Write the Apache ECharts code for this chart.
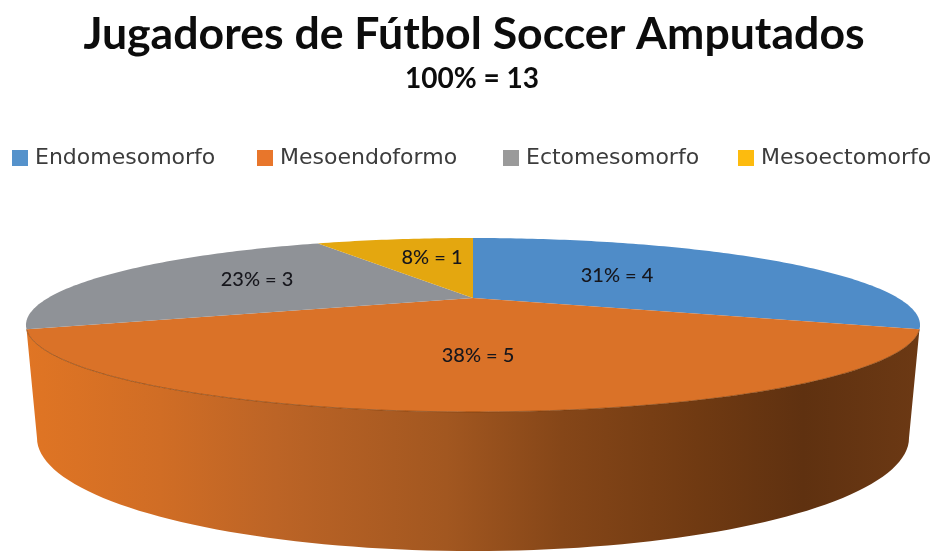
<!DOCTYPE html>
<html>
<head>
<meta charset="utf-8">
<style>html,body{margin:0;padding:0;background:#fff}#chart{width:939px;height:552px}</style>
<script src="https://cdn.jsdelivr.net/npm/echarts@6/dist/echarts.min.js"></script>
</head>
<body>
<div id="chart"></div>
<script>
// Somatotype counts for the squad
const categories = ['Endomesomorfo', 'Mesoendoformo', 'Ectomesomorfo', 'Mesoectomorfo'];
const counts = [4, 5, 3, 1];
const titleText = 'Jugadores de Fútbol Soccer Amputados';
const subtitleText = '100% = 13';

// Appearance
const faceColors = ['#4F8CC8', '#DA7228', '#8F9297', '#E4A70F'];
const swatchColors = ['#5592CB', '#E8762B', '#9A9A9A', '#FDBB0E'];
const legendLeft = [12, 257, 503, 738];
const labelAt = [[617, 276], [478, 356], [257, 280], [432, 258]];

// Tilted disc: circle seen in perspective, with the apex behind the ellipse centre
const disc = { cx: 473, apexY: 298, a: 425, b: 78.6, k: 0.31 };
const base = { cx: 473, cy: 438, rx: 436, ry: 113 };
const WALL_SIDE = 1; // index of the slice whose side wall faces the viewer

const total = counts.reduce((s, v) => s + v, 0);

function project(theta) {
  const u = Math.sin(theta), v = Math.cos(theta), w = 1 + disc.k * v;
  return [disc.cx + disc.a * u / w, disc.apexY - disc.b * v / w];
}
function rim(from, to) {
  const steps = Math.max(2, Math.ceil(Math.abs(to - from) * 60));
  const pts = [];
  for (let i = 0; i <= steps; i++) pts.push(project(from + (to - from) * i / steps));
  return pts;
}
// Lower edge of the side wall, running from the left end to the right end
function baseArc() {
  const pts = [];
  for (let i = 180; i >= 0; i -= 2) {
    const t = i * Math.PI / 180;
    pts.push([base.cx + base.rx * Math.cos(t), base.cy + base.ry * Math.sin(t)]);
  }
  return pts;
}

function makeRenderItem(index) {
  return function (params, api) {
    const value = api.value(0);
    const before = counts.slice(0, index).reduce((s, v) => s + v, 0);
    const start = before / total * Math.PI * 2;
    const end = (before + value) / total * Math.PI * 2;
    const edge = rim(start, end);
    const children = [];
    if (index === WALL_SIDE) {
      children.push({
        type: 'polygon',
        shape: { points: edge.concat(baseArc()) },
        style: {
          fill: new echarts.graphic.LinearGradient(0, 0, 1, 0, [
            { offset: 0, color: '#E07524' },
            { offset: 0.15, color: '#D06D25' },
            { offset: 0.28, color: '#BC6426' },
            { offset: 0.47, color: '#A25720' },
            { offset: 0.6, color: '#854618' },
            { offset: 0.75, color: '#703A12' },
            { offset: 0.87, color: '#5F3110' },
            { offset: 1, color: '#6C3914' }
          ])
        }
      });
    }
    children.push({
      type: 'polygon',
      shape: { points: [[disc.cx, disc.apexY]].concat(edge) },
      style: { fill: faceColors[index] }
    });
    if (index === WALL_SIDE) {
      children.push({
        type: 'polyline',
        shape: { points: edge },
        style: { fill: 'none', stroke: 'rgba(110,55,10,0.55)', lineWidth: 1 }
      });
    }
    children.push({
      type: 'text',
      style: {
        x: labelAt[index][0],
        y: labelAt[index][1],
        text: Math.round(value / total * 100) + '% = ' + value,
        font: '500 20px Lato',
        fill: '#16161c',
        align: 'center',
        verticalAlign: 'middle'
      }
    });
    return { type: 'group', children: children };
  };
}

const chart = echarts.init(document.getElementById('chart'));
chart.setOption({
  backgroundColor: '#fff',
  animation: false,
  title: [
    { text: titleText, left: 469, top: 7, textAlign: 'center',
      textStyle: { fontFamily: 'Lato', fontWeight: 'bold', fontSize: 44.6, color: '#0c0c0c' } },
    { text: subtitleText, left: 467, top: 60, textAlign: 'center',
      textStyle: { fontFamily: 'Lato', fontWeight: 'bold', fontSize: 28, color: '#0c0c0c' } }
  ],
  legend: categories.map((name, i) => ({
    left: legendLeft[i],
    top: 147,
    padding: 0,
    icon: 'rect',
    itemWidth: 16,
    itemHeight: 16,
    data: [{ name: name, itemStyle: { color: swatchColors[i] } }],
    textStyle: { fontFamily: 'DejaVu Sans', fontSize: 22, color: '#3c3c3c', padding: [0, 0, 0, 2] },
    selectedMode: false
  })),
  series: categories.map((name, i) => ({
    type: 'custom',
    name: name,
    coordinateSystem: 'none',
    data: [[counts[i]]],
    itemStyle: { color: faceColors[i] },
    renderItem: makeRenderItem(i)
  }))
});
</script>
</body>
</html>
